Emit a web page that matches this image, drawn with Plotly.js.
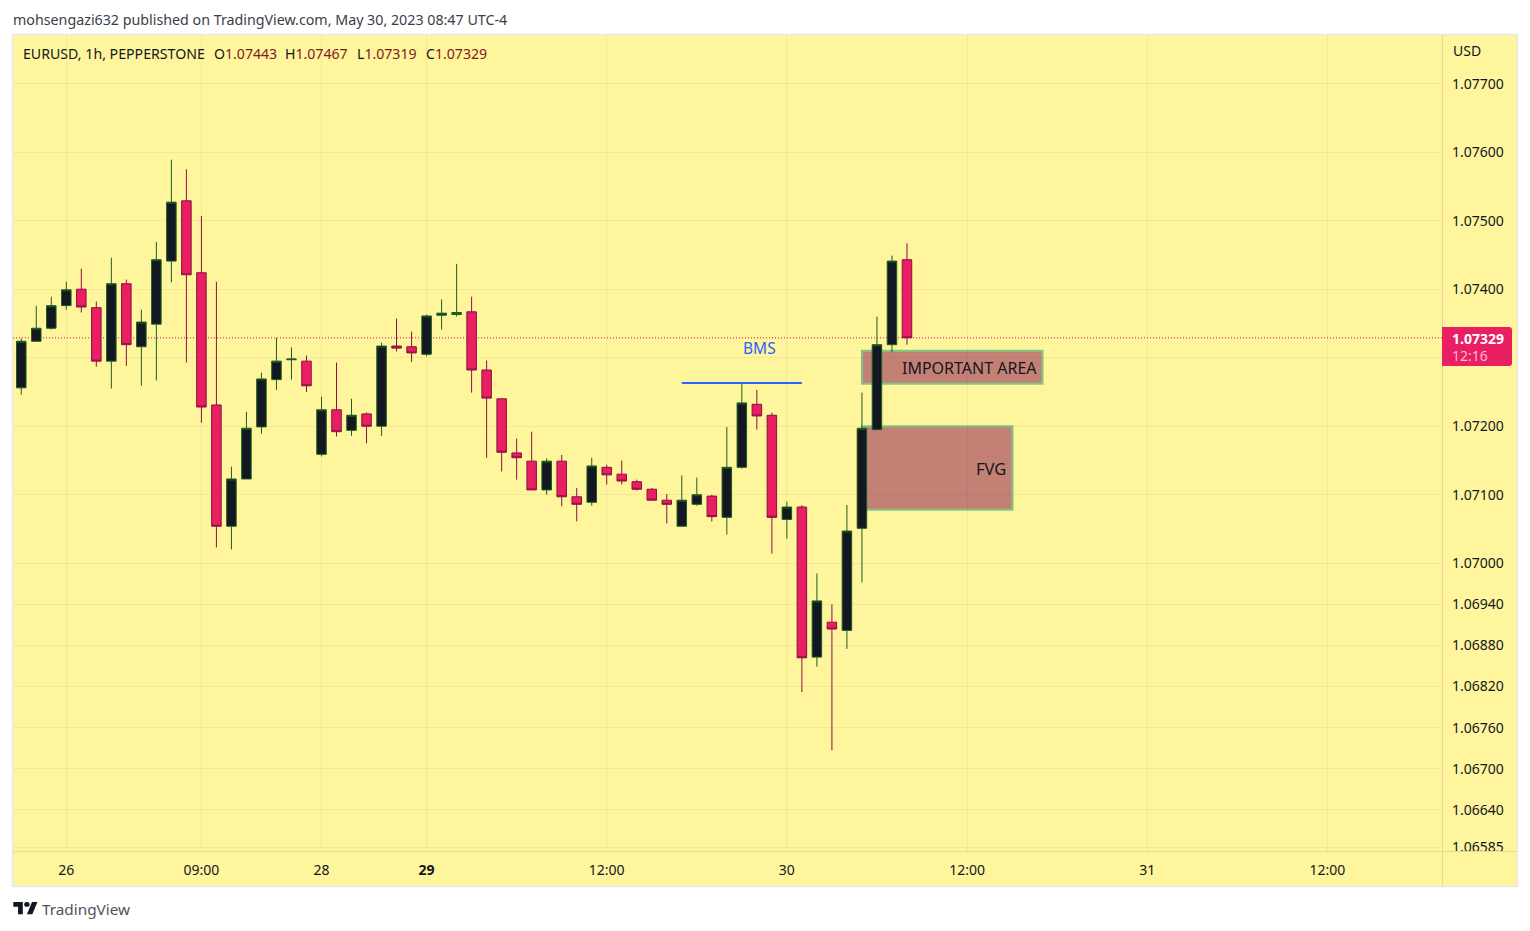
<!DOCTYPE html>
<html><head><meta charset="utf-8">
<script src="https://cdn.plot.ly/plotly-3.0.1.min.js"></script>
<style>html,body{margin:0;padding:0;background:#fff;overflow:hidden}#c{width:1530px;height:931px}</style>
</head><body><div id="c"></div>
<script>
const opens=[1.07256,1.07324,1.07343,1.07376,1.07400,1.07373,1.07295,1.07408,1.07316,1.07349,1.07441,1.07529,1.07424,1.07231,1.07054,1.07123,1.07199,1.07268,1.07297,1.07295,1.07159,1.07224,1.07194,1.07218,1.07200,1.07317,1.07316,1.07305,1.07362,1.07363,1.07367,1.07282,1.07240,1.07161,1.07149,1.07107,1.07149,1.07097,1.07089,1.07140,1.07130,1.07119,1.07108,1.07092,1.07054,1.07086,1.07098,1.07067,1.07140,1.07232,1.07216,1.07064,1.07082,1.06863,1.06914,1.06902,1.07051,1.07195,1.07319,1.07443];
const highs=[1.07328,1.07376,1.07389,1.07411,1.07430,1.07382,1.07446,1.07414,1.07370,1.07469,1.07589,1.07575,1.07507,1.07411,1.07141,1.07221,1.07278,1.07329,1.07315,1.07303,1.07243,1.07293,1.07240,1.07220,1.07322,1.07357,1.07338,1.07363,1.07385,1.07437,1.07389,1.07296,1.07240,1.07182,1.07192,1.07153,1.07158,1.07110,1.07154,1.07144,1.07150,1.07122,1.07110,1.07101,1.07128,1.07125,1.07100,1.07199,1.07263,1.07253,1.07220,1.07090,1.07085,1.06985,1.06940,1.07085,1.07249,1.07360,1.07449,1.07467];
const lows=[1.07246,1.07323,1.07341,1.07370,1.07366,1.07287,1.07255,1.07288,1.07259,1.07267,1.07410,1.07293,1.07205,1.07023,1.07020,1.07123,1.07189,1.07253,1.07268,1.07250,1.07156,1.07185,1.07186,1.07175,1.07186,1.07309,1.07294,1.07302,1.07341,1.07360,1.07249,1.07154,1.07134,1.07122,1.07107,1.07100,1.07083,1.07061,1.07084,1.07115,1.07115,1.07106,1.07092,1.07058,1.07054,1.07084,1.07061,1.07042,1.07138,1.07195,1.07014,1.07036,1.06812,1.06849,1.06727,1.06875,1.06972,1.07195,1.07308,1.07319];
const closes=[1.07324,1.07343,1.07376,1.07399,1.07374,1.07295,1.07408,1.07319,1.07352,1.07443,1.07527,1.07421,1.07228,1.07054,1.07123,1.07197,1.07269,1.07295,1.07298,1.07259,1.07224,1.07192,1.07216,1.07200,1.07317,1.07314,1.07307,1.07361,1.07365,1.07366,1.07282,1.07241,1.07162,1.07154,1.07107,1.07149,1.07097,1.07086,1.07142,1.07129,1.07120,1.07108,1.07092,1.07086,1.07092,1.07100,1.07068,1.07140,1.07234,1.07215,1.07067,1.07082,1.06862,1.06945,1.06904,1.07047,1.07197,1.07319,1.07441,1.07329];
const barIndex=opens.map((_,i)=>i);

const xTickVals=[3,12,20,27,39,51,63,75,87];
const xTickText=['26','09:00','28','<b>29</b>','12:00','30','12:00','31','12:00'];
const yTickVals=[1.077,1.076,1.075,1.074,1.073,1.072,1.071,1.07,1.0694,1.0688,1.0682,1.0676,1.067,1.0664,1.06585];
const yTickText=['1.07700','1.07600','1.07500','1.07400','','1.07200','1.07100','1.07000','1.06940','1.06880','1.06820','1.06760','1.06700','1.06640','1.06585'];

const zoneImportant={x0:56,x1:68.03,y0:1.07262,y1:1.07310};
const zoneFVG={x0:56,x1:66.03,y0:1.07078,y1:1.07200};
const bmsLine={x0:44,x1:52,y:1.07263};

const W=1530,H=931,L=13,T=35,PW=1429,PH=816;
const px=v=>(v-L)/PW, py=v=>(T+PH-v)/PH;
const YEL='#FFF59D',INK='#131722',RED='#E91E63',DRED='#8A1040',VALRED='#801922',UPB='#1B5E20',FRAME='#E6E8EE',AX='#E3DB94';

function pathPx(d){return d.map(s=>s[0]+' '+px(s[1]).toFixed(6)+' '+py(s[2]).toFixed(6)).join(' ')+' Z';}
function poly(points){return pathPx(points.map((p,i)=>[i?'L':'M',p[0],p[1]]));}
const lx=13.3,ly=902,ls=0.68;
const logoA=[[14,22],[7,22],[7,11],[0,11],[0,4],[14,4]].map(p=>[lx+p[0]*ls,ly+(p[1]-4)*ls]);
const logoB=[[28,22],[20,22],[27.5,4],[35.5,4]].map(p=>[lx+p[0]*ls,ly+(p[1]-4)*ls]);

const paperRect=(x0,y0,x1,y1,fill,line,layer)=>({type:'rect',xref:'paper',yref:'paper',x0:px(x0),x1:px(x1),y0:py(y1),y1:py(y0),fillcolor:fill,line:line||{width:0},layer:layer||'below'});
const paperLine=(x0,y0,x1,y1,color)=>({type:'line',xref:'paper',yref:'paper',x0:px(x0),x1:px(x1),y0:py(y0),y1:py(y1),line:{color:color,width:1},layer:'above'});

const last=closes.length-1;
const fmt=v=>v.toFixed(5);
const shapes=[
 paperRect(12.5,34.5,1517.5,886.5,YEL,{color:FRAME,width:1.5}),
 {type:'rect',xref:'x',yref:'y',x0:zoneImportant.x0,x1:zoneImportant.x1,y0:zoneImportant.y0,y1:zoneImportant.y1,fillcolor:'rgba(136,14,79,0.5)',line:{color:'#81C784',width:2},layer:'below'},
 {type:'rect',xref:'x',yref:'y',x0:zoneFVG.x0,x1:zoneFVG.x1,y0:zoneFVG.y0,y1:zoneFVG.y1,fillcolor:'rgba(136,14,79,0.5)',line:{color:'#81C784',width:2},layer:'below'},
 {type:'line',xref:'paper',yref:'y',x0:0,x1:1,y0:closes[last],y1:closes[last],line:{color:'#C2185B',width:1,dash:'1px,2px'},layer:'below'},
 {type:'line',xref:'x',yref:'y',x0:bmsLine.x0,x1:bmsLine.x1,y0:bmsLine.y,y1:bmsLine.y,line:{color:'#2962FF',width:2},layer:'above'},
 paperRect(1442.5,852,1517,885.5,YEL,null,'above'),
 paperLine(13,851.5,1517,851.5,AX),
 paperLine(1442.5,35,1442.5,886,AX),
 {type:'path',xref:'paper',yref:'paper',layer:'above',fillcolor:RED,line:{width:0},
  path:'M '+px(1442)+' '+py(327)+' L '+px(1509)+' '+py(327)+' Q '+px(1512)+' '+py(327)+' '+px(1512)+' '+py(330)+' L '+px(1512)+' '+py(363)+' Q '+px(1512)+' '+py(366)+' '+px(1509)+' '+py(366)+' L '+px(1442)+' '+py(366)+' Z'},
 {type:'path',xref:'paper',yref:'paper',layer:'above',fillcolor:INK,line:{width:0},path:poly(logoA)},
 {type:'path',xref:'paper',yref:'paper',layer:'above',fillcolor:INK,line:{width:0},path:poly(logoB)},
 {type:'circle',xref:'paper',yref:'paper',layer:'above',fillcolor:INK,line:{width:0},x0:px(lx+16*ls),x1:px(lx+24*ls),y0:py(ly+(11-4)*ls),y1:py(ly+(3-4)*ls+0.7)}
];
const FONT='"Noto Sans", sans-serif';
const note=(text,x,y,size,color,anchor,extra)=>Object.assign({text:text,xref:'paper',yref:'paper',x:px(x),y:py(y),xanchor:anchor||'left',yanchor:'middle',showarrow:false,font:{family:FONT,size:size,color:color},borderpad:0,borderwidth:0},extra||{});
const val=v=>'<span style="color:'+VALRED+'">'+fmt(v)+'</span>';
const annotations=[
 note('mohsengazi632 published on TradingView.com, May 30, 2023 08:47 UTC-4',12.5,19.2,14.25,'#3A3E4A'),
 note('EURUSD, 1h, PEPPERSTONE',22.5,53.5,14.15,INK),
 note('O'+val(opens[last]),213.5,53.5,14.1,INK),
 note('H'+val(highs[last]),285,53.5,14.1,INK),
 note('L'+val(lows[last]),356.5,53.5,14.1,INK),
 note('C'+val(closes[last]),426,53.5,14.1,INK),
 note('USD',1453,50.5,14,INK),
 note('<b>'+fmt(closes[last])+'</b>',1452,338,14,'#FFFFFF'),
 note('12:16',1452,355.5,14,'#F8BBD0'),
 note('TradingView',41.5,909,15.3,'#50535E'),
 {text:'BMS',xref:'x',yref:'y',x:49.2,y:1.07314,xanchor:'center',yanchor:'middle',showarrow:false,font:{family:FONT,size:15.5,color:'#2962FF'}},
 {text:'IMPORTANT AREA',xref:'x',yref:'y',x:67.8,y:1.07285,xanchor:'right',yanchor:'middle',showarrow:false,font:{family:FONT,size:16,color:INK}},
 {text:'FVG',xref:'x',yref:'y',x:65.73,y:1.07139,xanchor:'right',yanchor:'middle',showarrow:false,font:{family:FONT,size:16.5,color:INK}}
];
const trace={type:'candlestick',x:barIndex,open:opens,high:highs,low:lows,close:closes,whiskerwidth:0,hoverinfo:'skip',
 increasing:{fillcolor:INK,line:{color:UPB,width:1}},
 decreasing:{fillcolor:RED,line:{color:DRED,width:1}}};
const layout={width:W,height:H,autosize:false,showlegend:false,
 margin:{l:L,r:W-L-PW,t:T,b:H-T-PH,pad:0},
 paper_bgcolor:'#FFFFFF',plot_bgcolor:YEL,boxgap:0.367,boxgroupgap:0,
 font:{family:FONT,size:14,color:INK},
 xaxis:{type:'linear',range:[-0.5505,94.64],tickmode:'array',tickvals:xTickVals,ticktext:xTickText,showgrid:true,gridcolor:'rgba(42,46,57,0.06)',gridwidth:1,zeroline:false,showline:false,ticks:'',ticklabelstandoff:9,tickfont:{family:FONT,size:14,color:INK},rangeslider:{visible:false},fixedrange:true},
 yaxis:{type:'linear',side:'right',range:[1.0658,1.07771],tickmode:'array',tickvals:yTickVals,ticktext:yTickText,showgrid:true,gridcolor:'rgba(42,46,57,0.06)',gridwidth:1,zeroline:false,showline:false,ticks:'',ticklabelstandoff:9,tickfont:{family:FONT,size:14,color:INK},fixedrange:true},
 shapes:shapes,annotations:annotations};
Plotly.newPlot('c',[trace],layout,{displayModeBar:false,staticPlot:true});
</script></body></html>
